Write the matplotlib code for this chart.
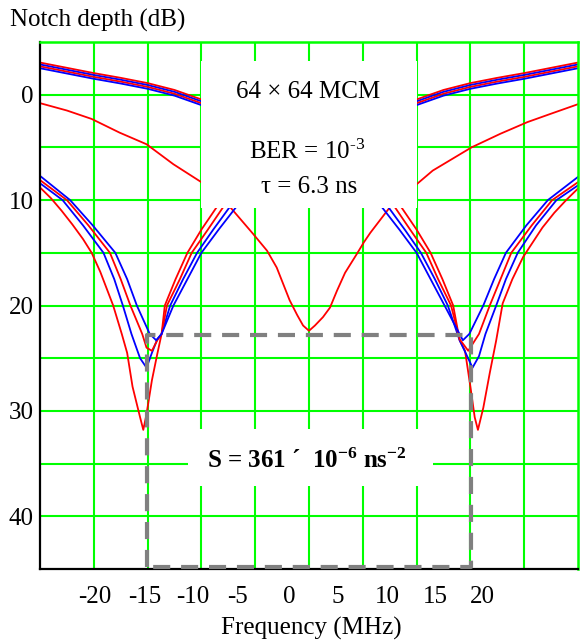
import matplotlib
matplotlib.use("Agg")
import matplotlib.pyplot as plt
from matplotlib.patches import Rectangle

plt.rcParams['font.family'] = ['Liberation Serif', 'DejaVu Serif']
plt.rcParams['mathtext.fontset'] = 'custom'
plt.rcParams['mathtext.rm'] = 'Liberation Serif'
plt.rcParams['mathtext.it'] = 'Liberation Serif:italic'
plt.rcParams['mathtext.bf'] = 'Liberation Serif:bold'

# upper bundle (near 0 dB)
x_top = [-25, -22.5, -20, -17.5, -15, -12.5, -10, -5, 0, 5, 10, 12.5, 15, 17.5, 20, 22.5, 25]
top_r1 = [-3.05, -2.55, -2.05, -1.6, -1.1, -0.45, 0.45, 2.2, 3.0, 2.2, 0.45, -0.45, -1.1, -1.6, -2.05, -2.55, -3.05]
top_b1 = [-2.87, -2.37, -1.87, -1.42, -0.92, -0.27, 0.63, 2.38, 3.18, 2.38, 0.63, -0.27, -0.92, -1.42, -1.87, -2.37, -2.87]
top_r2 = [-2.69, -2.19, -1.69, -1.24, -0.74, -0.09, 0.81, 2.56, 3.36, 2.56, 0.81, -0.09, -0.74, -1.24, -1.69, -2.19, -2.69]
top_b2 = [-2.51, -2.01, -1.51, -1.06, -0.56, 0.09, 0.99, 2.74, 3.54, 2.74, 0.99, 0.09, -0.56, -1.06, -1.51, -2.01, -2.51]

# single red curve with notch at 0
x_mid = [-25, -22.5, -20.2, -17.6, -15.1, -12.6, -10, -7.3, -5.2, -3.9, -3.0, -1.8, -1.1, -0.55, 0,
         0.55, 1.3, 1.95, 2.6, 3.35, 4.45, 5.1, 5.7, 6.3, 7.5, 10, 11.5, 15.1, 17.8, 20.3, 22.5, 25]
y_mid = [0.8, 1.5, 2.3, 3.6, 4.7, 6.6, 8.3, 10.7, 13.2, 14.8, 16.4, 19.5, 20.9, 21.9, 22.4,
         21.9, 21.1, 20.2, 18.6, 16.9, 15.1, 14.0, 13.1, 12.3, 10.7, 8.5, 7.2, 5.0, 3.7, 2.6, 1.8, 0.9]

# lower bundle, notches near +-15 MHz
x_a = [-25, -24, -23, -22, -21, -20.2, -19.4, -18.8, -18.2, -17.4, -16.9, -16.4, -15.7, -15.4,
       -15.1, -14.6, -14.1, -13.7, -13.4, -12.4, -11.3, -10.0, -8.6, -4, 0,
       4, 8.6, 10.0, 11.3, 12.4, 13.4, 14.0, 14.5, 15.0, 15.4, 15.7,
       16.2, 16.8, 17.4, 18.0, 18.9, 19.9, 20.8, 21.7, 22.8, 23.9, 25]
y_a = [8.8, 9.8, 11.0, 12.3, 13.7, 15.0, 16.8, 18.4, 20.0, 22.7, 24.5, 27.7, 30.6, 31.8,
       30.3, 27.1, 24.6, 22.7, 20.0, 17.5, 15.0, 12.8, 10.7, 7.0, 6.0,
       7.0, 10.7, 12.8, 15.0, 17.5, 20.0, 23.3, 24.3, 27.7, 30.6, 31.8,
       29.7, 26.4, 23.3, 19.8, 17.5, 15.4, 14.0, 12.6, 11.2, 10.0, 8.9]

x_b = [-25, -22.9, -21.0, -19.1, -18.1, -17.3, -16.5, -15.7, -15.1, -14.6, -14.1, -13.7,
       -12.9, -11.7, -10.4, -8.9, -7.4, -4, 0,
       4, 7.4, 8.9, 10.4, 11.7, 12.9, 14.0, 14.6, 15.2, 15.8, 16.4,
       17.4, 18.3, 19.4, 21.1, 23.0, 25]
y_b = [8.4, 10.0, 12.4, 15.0, 17.5, 20.0, 22.7, 25.0, 25.9, 24.5, 23.2, 22.7,
       20.0, 17.5, 15.0, 12.8, 10.7, 7.0, 6.0,
       7.0, 10.7, 12.8, 15.0, 17.5, 20.0, 23.3, 24.6, 25.9, 24.8, 22.7,
       20.0, 17.5, 15.0, 12.4, 10.0, 8.6]

x_c = [-25, -22.5, -20.5, -18.5, -17.5, -16.6, -15.5, -15.1, -14.6, -14.1, -13.7,
       -13.2, -12.0, -10.9, -9.4, -8.0, -4, 0,
       4, 8.0, 9.4, 10.9, 12.0, 13.2, 14.0, 14.8, 15.3, 15.8,
       16.8, 17.8, 18.8, 20.7, 22.6, 25]
y_c = [8.1, 10.0, 12.4, 15.0, 17.5, 20.0, 22.7, 24.0, 24.3, 23.3, 22.7,
       20.0, 17.5, 15.0, 12.8, 10.7, 7.0, 6.0,
       7.0, 10.7, 12.8, 15.0, 17.5, 20.0, 23.2, 24.3, 23.5, 22.7,
       20.0, 17.5, 15.0, 12.4, 10.0, 8.3]

x_d = [-25, -22.2, -20.1, -18.0, -16.9, -16.0, -14.8, -14.2, -13.7,
       -12.6, -11.3, -10.0, -8.4, -6.8, -4, 0,
       4, 6.8, 8.4, 10.0, 11.3, 12.6, 14.3, 14.9,
       16.2, 17.2, 18.3, 20.2, 22.2, 25]
y_d = [7.7, 10.0, 12.4, 15.0, 17.5, 20.0, 22.7, 23.3, 22.7,
       20.0, 17.5, 15.0, 12.8, 10.7, 7.0, 6.0,
       7.0, 10.7, 12.8, 15.0, 17.5, 20.0, 23.3, 22.7,
       20.0, 17.5, 15.0, 12.4, 10.0, 7.8]

# tick labels (the original prints them off the grid)
xtick_pos = [-19.9, -15.3, -10.8, -6.6, -1.85, 2.7, 7.25, 11.7, 16.1]
xtick_lab = ['-20', '-15', '-10', '-5', '0', '5', '10', '15', '20']
ytick_pos = [0, 10, 20, 30, 40]

grid_x = [-20, -15, -10, -5, 0, 5, 10, 15, 20]
grid_y = [0, 5, 10, 15, 20, 25, 30, 35, 40]

fig = plt.figure(figsize=(5.8, 6.41), dpi=100)
ax = fig.add_axes([40 / 580, 72 / 641, 538 / 580, 527 / 641])
ax.set_xlim(-25, 25)
ax.set_ylim(45, -5)

green = '#00ff00'
for gx in grid_x:
    ax.axvline(gx, color=green, lw=1.5, zorder=1)
for gy in grid_y:
    ax.axhline(gy, color=green, lw=1.5, zorder=1)

lw = 1.3
ax.plot(x_top, top_r1, color='red', lw=lw, zorder=2)
ax.plot(x_top, top_b1, color='blue', lw=lw, zorder=2)
ax.plot(x_top, top_r2, color='red', lw=lw, zorder=2)
ax.plot(x_top, top_b2, color='blue', lw=lw, zorder=2)
ax.plot(x_mid, y_mid, color='red', lw=lw, zorder=2)
ax.plot(x_a, y_a, color='red', lw=lw, zorder=2)
ax.plot(x_b, y_b, color='blue', lw=lw, zorder=2)
ax.plot(x_c, y_c, color='red', lw=lw, zorder=2)
ax.plot(x_d, y_d, color='blue', lw=lw, zorder=2)

# dashed box
ax.plot([-15.1, -15.1, 15.1, 15.1, -15.1], [44.8, 22.8, 22.8, 44.8, 44.8],
        color='#808080', lw=3, dashes=(4.1, 2.6), zorder=4, clip_on=False)

# white label boxes
ax.add_patch(Rectangle((-10, -3.2), 20, 13.95, facecolor='white', edgecolor='none', zorder=3))
ax.add_patch(Rectangle((-11.2, 31.75), 22.7, 5.35, facecolor='white', edgecolor='none', zorder=3))

ax.text(-0.1, 0.3, '64 × 64 MCM', fontsize=18, ha='center', va='baseline', zorder=5)
ax.text(-0.15, 6.1, 'BER = 10$^{\\text{-3}}$', fontsize=18, ha='center', va='baseline', zorder=5)
ax.text(0, 9.3, 'τ = 6.3 ns', fontsize=18, ha='center', va='baseline', zorder=5)
ax.text(-0.15, 35.4, 'S = 361 ´  10$^{\\mathbf{-6}}$ ns$^{\\mathbf{-2}}$', fontsize=18,
        fontweight='bold', ha='center', va='baseline', zorder=5)

ax.set_xticks(xtick_pos, xtick_lab)
ax.set_yticks(ytick_pos, [str(v) for v in ytick_pos])
ax.tick_params(axis='x', length=0, pad=12, labelsize=18)
ax.tick_params(axis='y', length=0, pad=4.5, labelsize=18)

for s in ['left', 'bottom']:
    ax.spines[s].set_color('black')
    ax.spines[s].set_linewidth(1.6)
for s in ['top', 'right']:
    ax.spines[s].set_color(green)
    ax.spines[s].set_linewidth(1.8)

fig.text(10 / 580, 1 - 27 / 641, 'Notch depth (dB)', fontsize=18, ha='left', va='baseline')
fig.text(311 / 580, 1 - 635 / 641, 'Frequency (MHz)', fontsize=18, ha='center', va='baseline')

fig.savefig('out.png', dpi=100)
